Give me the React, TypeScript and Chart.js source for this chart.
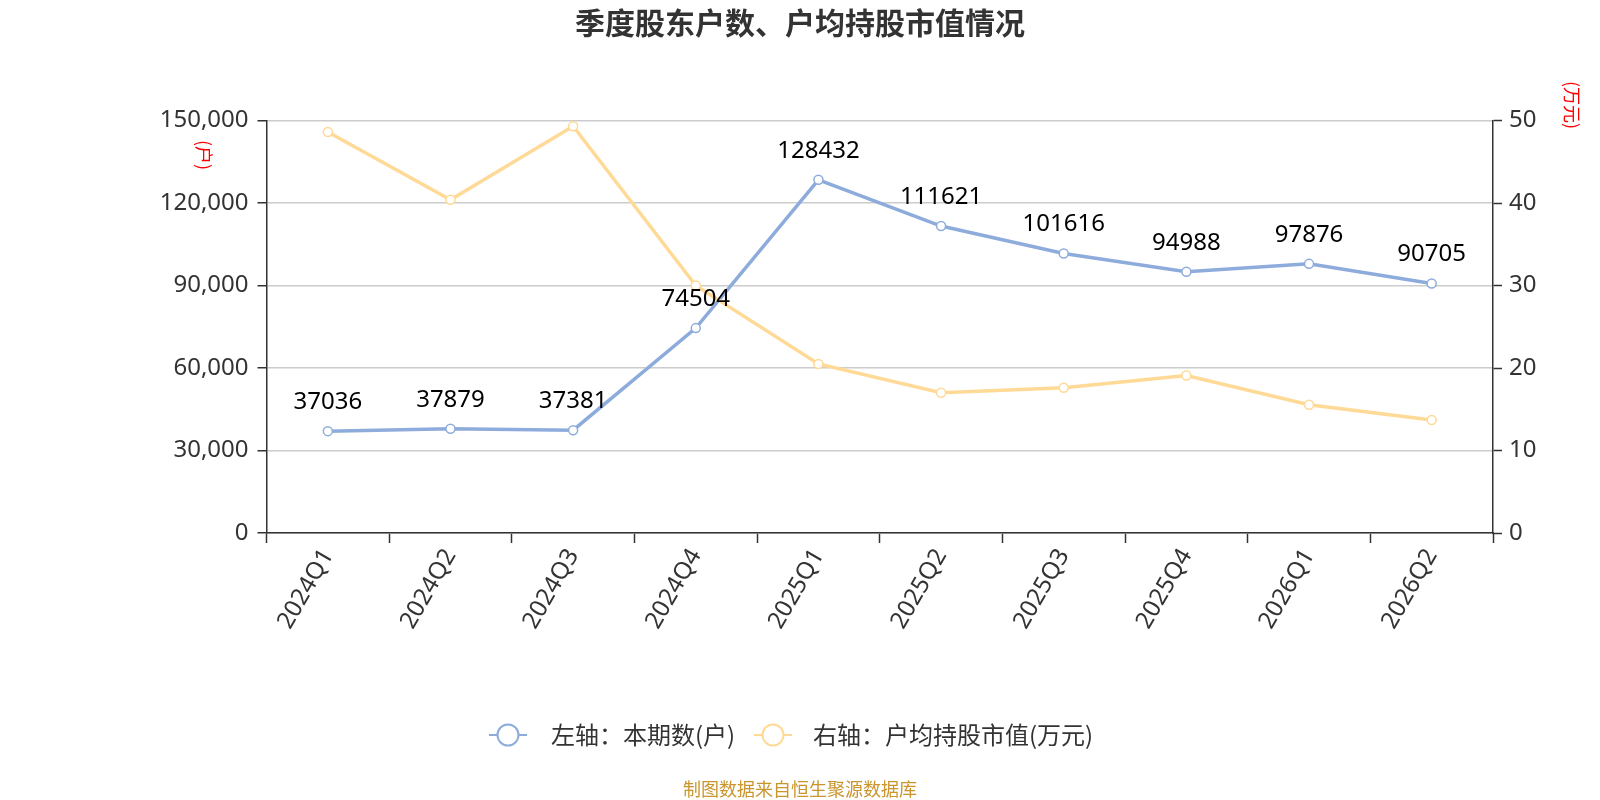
import React, { useEffect, useRef } from "react";
import { Chart, registerables } from "chart.js";

Chart.register(...registerables);

const categories = ["2024Q1", "2024Q2", "2024Q3", "2024Q4", "2025Q1", "2025Q2", "2025Q3", "2025Q4", "2026Q1", "2026Q2"];
const holders = [37036, 37879, 37381, 74504, 128432, 111621, 101616, 94988, 97876, 90705];
const avgValue = [48.6, 40.4, 49.3, 30.0, 20.5, 17.0, 17.6, 19.1, 15.55, 13.7];
const leftTicks = [0, 30000, 60000, 90000, 120000, 150000];
const rightTicks = [0, 10, 20, 30, 40, 50];

const TITLE = "季度股东户数、户均持股市值情况";
const LEGEND_LEFT = "左轴：本期数(户)";
const LEGEND_RIGHT = "右轴：户均持股市值(万元)";
const FOOTER = "制图数据来自恒生聚源数据库";
const LEFT_UNIT = "(户)";
const RIGHT_UNIT = "(万元)";

const FONT = '"Noto Sans", "Noto Sans CJK SC", sans-serif';
const CJK = '"Noto Sans CJK SC", "Noto Sans", sans-serif';
const BLUE = "#8eacdb";
const YELLOW = "#ffd996";

const AREA = { left: 266.5, right: 1493, top: 120.5, bottom: 533 };

export default function App() {
  const ref = useRef<HTMLCanvasElement | null>(null);

  useEffect(() => {
    document.body.style.margin = "0";
    const canvas = ref.current;
    if (!canvas) return;

    const decor = {
      id: "decor",
      afterDatasetsDraw(chart: any) {
        const ctx = chart.ctx;
        const meta = chart.getDatasetMeta(0);
        ctx.save();
        ctx.font = `24px ${FONT}`;
        ctx.fillStyle = "#000";
        ctx.textAlign = "center";
        ctx.textBaseline = "middle";
        meta.data.forEach((pt: any, i: number) => {
          ctx.fillText(String(holders[i]), pt.x, pt.y - 29);
        });
        ctx.restore();
      },
      afterDraw(chart: any) {
        const ctx = chart.ctx;
        ctx.save();
        // title
        ctx.font = `bold 30px ${CJK}`;
        ctx.fillStyle = "#333";
        ctx.textAlign = "center";
        ctx.textBaseline = "middle";
        ctx.fillText(TITLE, 800, 23);

        // axis unit titles (rotated)
        ctx.font = `18px ${CJK}`;
        ctx.fillStyle = "#ff0000";
        ctx.save();
        ctx.translate(204, 155);
        ctx.rotate(Math.PI / 2);
        ctx.fillText(LEFT_UNIT, 0, 0);
        ctx.restore();
        ctx.save();
        ctx.translate(1572, 105);
        ctx.rotate(Math.PI / 2);
        ctx.fillText(RIGHT_UNIT, 0, 0);
        ctx.restore();

        // legend
        const drawMarker = (cx: number, cy: number, color: string) => {
          ctx.strokeStyle = color;
          ctx.lineWidth = 2;
          ctx.beginPath();
          ctx.moveTo(cx - 19, cy);
          ctx.lineTo(cx + 19, cy);
          ctx.stroke();
          ctx.beginPath();
          ctx.arc(cx, cy, 10.5, 0, Math.PI * 2);
          ctx.fillStyle = "#fff";
          ctx.fill();
          ctx.stroke();
        };
        const ly = 735;
        drawMarker(508, ly, BLUE);
        drawMarker(773, ly, YELLOW);
        ctx.font = `24px ${CJK}`;
        ctx.fillStyle = "#333";
        ctx.textAlign = "left";
        ctx.fillText(LEGEND_LEFT, 551, ly);
        ctx.fillText(LEGEND_RIGHT, 813, ly);

        // footer
        ctx.font = `18px ${CJK}`;
        ctx.fillStyle = "#c9952c";
        ctx.textAlign = "center";
        ctx.fillText(FOOTER, 800, 789);
        ctx.restore();
      },
    };

    const chart = new Chart(canvas, {
      type: "line",
      data: {
        labels: categories,
        datasets: [
          {
            label: LEGEND_LEFT,
            data: holders,
            yAxisID: "y",
            borderColor: BLUE,
            backgroundColor: BLUE,
            borderWidth: 3.5,
            pointRadius: 4.5,
            pointBorderWidth: 1.5,
            pointBackgroundColor: "#fff",
            pointBorderColor: BLUE,
            tension: 0,
            order: 1,
          },
          {
            label: LEGEND_RIGHT,
            data: avgValue,
            yAxisID: "y1",
            borderColor: YELLOW,
            backgroundColor: YELLOW,
            borderWidth: 3.5,
            pointRadius: 4.5,
            pointBorderWidth: 1.5,
            pointBackgroundColor: "#fff",
            pointBorderColor: YELLOW,
            tension: 0,
            order: 0,
          },
        ],
      },
      options: {
        animation: false,
        responsive: false,
        maintainAspectRatio: false,
        devicePixelRatio: 1,
        layout: { padding: { top: AREA.top, left: 0, right: 0, bottom: 0 } },
        plugins: {
          legend: { display: false },
          title: { display: false },
          tooltip: { enabled: false },
        },
        scales: {
          x: {
            type: "category",
            offset: true,
            grid: {
              display: true,
              offset: true,
              drawOnChartArea: false,
              drawTicks: true,
              tickLength: 10,
              tickColor: "#333",
              tickWidth: 1.5,
            },
            border: { display: true, color: "#333", width: 1.5 },
            ticks: {
              color: "#333",
              font: { size: 24, family: FONT },
              minRotation: 60,
              maxRotation: 60,
              padding: 1,
              autoSkip: false,
            },
            afterFit(scale: any) {
              scale.height = 800 - AREA.bottom;
            },
          },
          y: {
            type: "linear",
            position: "left",
            min: 0,
            max: 150000,
            afterBuildTicks(scale: any) {
              scale.ticks = leftTicks.map((v) => ({ value: v }));
            },
            grid: {
              color: "#cccccc",
              lineWidth: 1.5,
              drawTicks: true,
              tickLength: 9,
              tickColor: "#333",
              tickWidth: 1.5,
            },
            border: { display: true, color: "#333", width: 1.5 },
            ticks: {
              color: "#333",
              font: { size: 24, family: FONT },
              padding: 9,
              callback: (v: any) => Number(v).toLocaleString("en-US"),
            },
            afterFit(scale: any) {
              scale.width = AREA.left;
            },
          },
          y1: {
            type: "linear",
            position: "right",
            min: 0,
            max: 50,
            afterBuildTicks(scale: any) {
              scale.ticks = rightTicks.map((v) => ({ value: v }));
            },
            grid: {
              drawOnChartArea: false,
              drawTicks: true,
              tickLength: 9,
              tickColor: "#333",
              tickWidth: 1.5,
            },
            border: { display: true, color: "#333", width: 1.5 },
            ticks: {
              color: "#333",
              font: { size: 24, family: FONT },
              padding: 7,
            },
            afterFit(scale: any) {
              scale.width = 1600 - AREA.right;
            },
          },
        },
      },
      plugins: [decor],
    });

    return () => chart.destroy();
  }, []);

  return (
    <div style={{ width: 1600, height: 800, position: "relative" }}>
      <canvas ref={ref} width={1600} height={800} style={{ width: 1600, height: 800, display: "block" }} />
    </div>
  );
}
